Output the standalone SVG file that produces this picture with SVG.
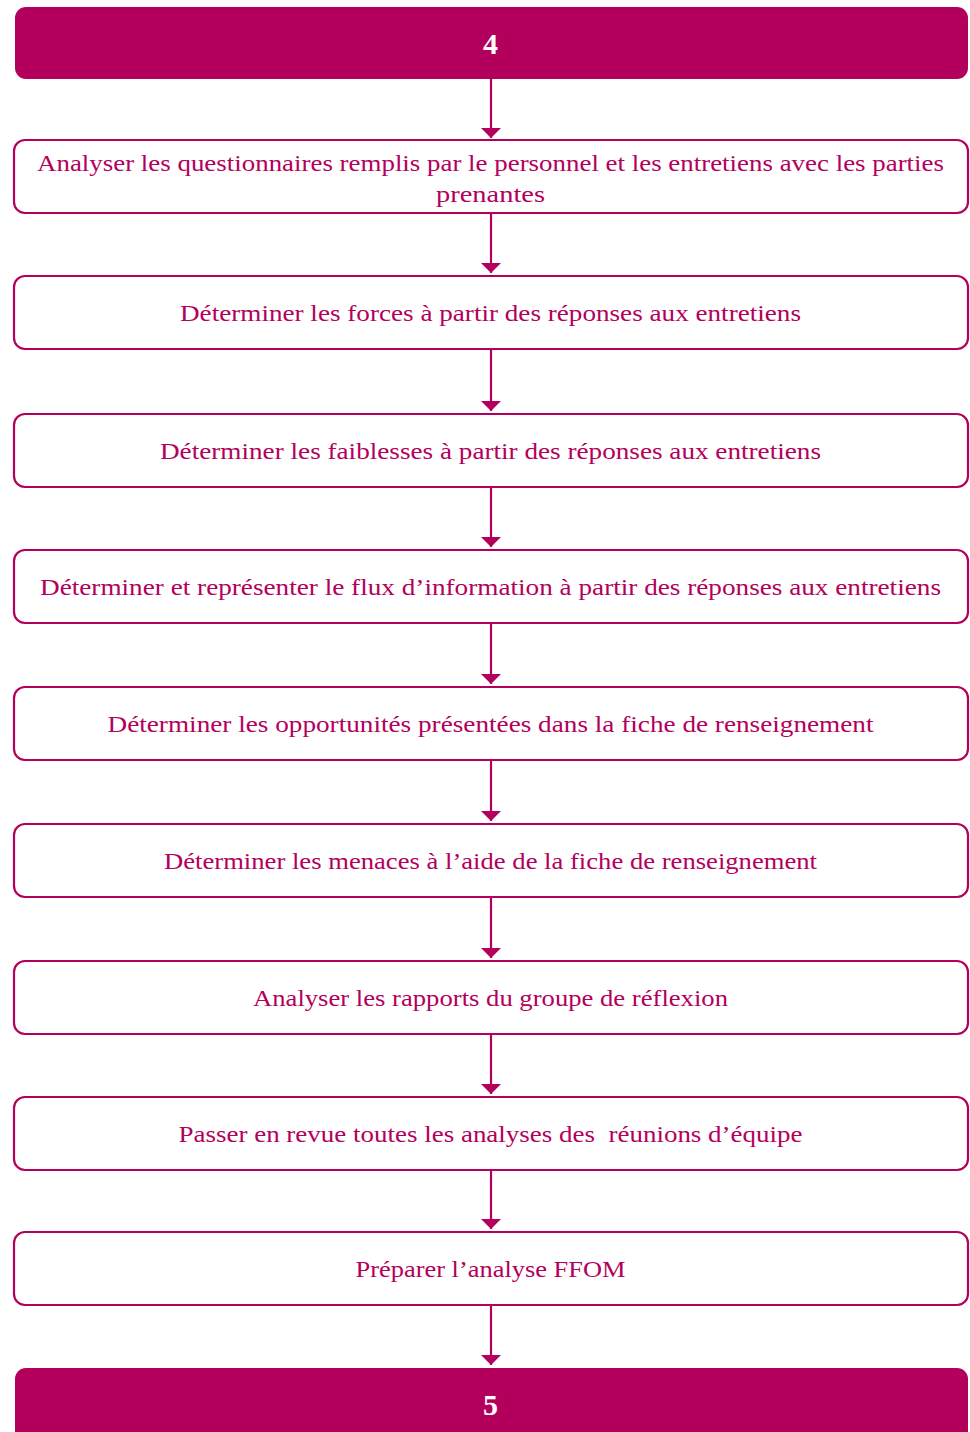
<svg xmlns="http://www.w3.org/2000/svg" width="970" height="1432" viewBox="0 0 970 1432">
  <style>
    .head { fill: #B3005C; }
    .step { fill: #FFFFFF; stroke: #B3005C; stroke-width: 2.2; }
    .num { font-family: "Liberation Serif", "DejaVu Serif", serif; font-size: 30px; font-weight: bold; fill: #FFFFFF; text-anchor: middle; }
    .lbl { font-family: "Liberation Serif", "DejaVu Serif", serif; font-size: 24px; fill: #B3005C; text-anchor: middle; }
    .link { stroke: #B3005C; stroke-width: 2.2; fill: none; marker-end: url(#arrow); }
  </style>
  <defs>
    <!-- wide, short arrowhead: 20px across, 10px deep -->
    <marker id="arrow" viewBox="0 0 10 20" refX="10" refY="10" markerWidth="10" markerHeight="20" markerUnits="userSpaceOnUse" orient="auto">
      <path d="M0,0 L10,10 L0,20 Z" fill="#B3005C"/>
    </marker>
  </defs>

  <!-- connectors -->
  <g id="connectors">
    <line class="link" x1="491" y1="79" x2="491" y2="138"/>
    <line class="link" x1="491" y1="213" x2="491" y2="273"/>
    <line class="link" x1="491" y1="349" x2="491" y2="411"/>
    <line class="link" x1="491" y1="487" x2="491" y2="547"/>
    <line class="link" x1="491" y1="623" x2="491" y2="684"/>
    <line class="link" x1="491" y1="760" x2="491" y2="821"/>
    <line class="link" x1="491" y1="897" x2="491" y2="958"/>
    <line class="link" x1="491" y1="1034" x2="491" y2="1094"/>
    <line class="link" x1="491" y1="1170" x2="491" y2="1229"/>
    <line class="link" x1="491" y1="1305" x2="491" y2="1365"/>
  </g>

  <g id="start">
    <rect class="head" x="15" y="7" width="953" height="72" rx="11"/>
    <text class="num" x="490.5" y="54">4</text>
  </g>

  <g id="step1">
    <rect class="step" x="14" y="140" width="954" height="73" rx="11"/>
    <text class="lbl" x="490.5" y="171" textLength="907" lengthAdjust="spacingAndGlyphs">Analyser les questionnaires remplis par le personnel et les entretiens avec les parties</text>
    <text class="lbl" x="490.5" y="202" textLength="109" lengthAdjust="spacingAndGlyphs">prenantes</text>
  </g>

  <g id="step2">
    <rect class="step" x="14" y="276" width="954" height="73" rx="11"/>
    <text class="lbl" x="490.5" y="321" textLength="621" lengthAdjust="spacingAndGlyphs">Déterminer les forces à partir des réponses aux entretiens</text>
  </g>

  <g id="step3">
    <rect class="step" x="14" y="414" width="954" height="73" rx="11"/>
    <text class="lbl" x="490.5" y="459" textLength="661" lengthAdjust="spacingAndGlyphs">Déterminer les faiblesses à partir des réponses aux entretiens</text>
  </g>

  <g id="step4">
    <rect class="step" x="14" y="550" width="954" height="73" rx="11"/>
    <text class="lbl" x="490.5" y="595" textLength="901" lengthAdjust="spacingAndGlyphs">Déterminer et représenter le flux d’information à partir des réponses aux entretiens</text>
  </g>

  <g id="step5">
    <rect class="step" x="14" y="687" width="954" height="73" rx="11"/>
    <text class="lbl" x="490.5" y="732" textLength="766" lengthAdjust="spacingAndGlyphs">Déterminer les opportunités présentées dans la fiche de renseignement</text>
  </g>

  <g id="step6">
    <rect class="step" x="14" y="824" width="954" height="73" rx="11"/>
    <text class="lbl" x="490.5" y="869" textLength="653" lengthAdjust="spacingAndGlyphs">Déterminer les menaces à l’aide de la fiche de renseignement</text>
  </g>

  <g id="step7">
    <rect class="step" x="14" y="961" width="954" height="73" rx="11"/>
    <text class="lbl" x="490.5" y="1006" textLength="475" lengthAdjust="spacingAndGlyphs">Analyser les rapports du groupe de réflexion</text>
  </g>

  <g id="step8">
    <rect class="step" x="14" y="1097" width="954" height="73" rx="11"/>
    <text class="lbl" x="490.5" y="1142" textLength="624" lengthAdjust="spacingAndGlyphs" xml:space="preserve">Passer en revue toutes les analyses des  réunions d’équipe</text>
  </g>

  <g id="step9">
    <rect class="step" x="14" y="1232" width="954" height="73" rx="11"/>
    <text class="lbl" x="490.5" y="1277" textLength="270" lengthAdjust="spacingAndGlyphs">Préparer l’analyse FFOM</text>
  </g>

  <g id="end">
    <rect class="head" x="15" y="1368" width="953" height="80" rx="11"/>
    <text class="num" x="490.5" y="1415">5</text>
  </g>
</svg>
